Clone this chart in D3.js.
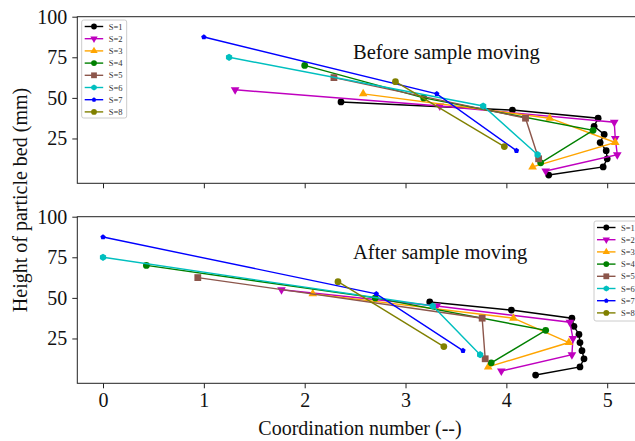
<!DOCTYPE html>
<html>
<head>
<meta charset="utf-8">
<script src="https://cdnjs.cloudflare.com/ajax/libs/d3/7.8.5/d3.min.js"></script>
<style>
body { margin: 0; background: #fff; }
svg { display: block; font-family: "Liberation Serif", "Times New Roman", serif; }
</style>
</head>
<body>
<svg width="635" height="441"></svg>
<script>
// series names / styles
var names = ["S=1", "S=2", "S=3", "S=4", "S=5", "S=6", "S=7", "S=8"];
var colors = ["#000000", "#bf00bf", "#ffa500", "#008000", "#8c564b", "#00bfbf", "#0000ff", "#808000"];
var shapes = ["circle", "down", "up", "circle", "square", "hexagon", "pentagon", "circle"];

// bed heights (mm), same for both panels
var hS1 = [47.5, 42.5, 37.5, 32.5, 27.5, 22.5, 17.5, 12.5, 7.5, 2.5];
var hS2 = [55, 45, 35, 25, 15, 5];
var hS3 = [52.5, 37.5, 22.5, 7.5];
var hS4 = [70, 50, 30, 10];
var hS5 = [62.5, 37.5, 12.5];
var hS6 = [75, 45, 15];
var hS7 = [87.5, 52.5, 17.5];
var hS8 = [60, 20];

// coordination number before moving
var beforeS1 = [2.36, 4.06, 4.91, 4.87, 4.97, 4.93, 4.99, 5.0, 4.96, 4.42];
var beforeS2 = [1.31, 3.34, 5.07, 5.08, 5.1, 4.39];
var beforeS3 = [2.58, 4.43, 5.08, 4.26];
var beforeS4 = [2.0, 3.18, 4.86, 4.34];
var beforeS5 = [2.29, 4.19, 4.32];
var beforeS6 = [1.25, 3.77, 4.31];
var beforeS7 = [1.0, 3.31, 4.1];
var beforeS8 = [2.9, 3.98];

// coordination number after moving
var afterS1 = [3.24, 4.05, 4.65, 4.67, 4.72, 4.73, 4.75, 4.77, 4.73, 4.29];
var afterS2 = [1.77, 3.31, 4.63, 4.66, 4.65, 3.95];
var afterS3 = [2.08, 4.07, 4.62, 3.82];
var afterS4 = [0.43, 2.70, 4.39, 3.85];
var afterS5 = [0.94, 3.76, 3.79];
var afterS6 = [0.0, 3.27, 3.74];
var afterS7 = [0.0, 2.71, 3.57];
var afterS8 = [2.33, 3.38];

var xTicks = [0, 1, 2, 3, 4, 5];
var yTicks = [25, 50, 75, 100];

var heights = [hS1, hS2, hS3, hS4, hS5, hS6, hS7, hS8];
var before = [beforeS1, beforeS2, beforeS3, beforeS4, beforeS5, beforeS6, beforeS7, beforeS8];
var after = [afterS1, afterS2, afterS3, afterS4, afterS5, afterS6, afterS7, afterS8];

var svg = d3.select("svg");
var left = 77.3, right = 643;

var x = d3.scaleLinear().domain([-0.255, 5.355]).range([left, right]);

function polygon(n, r, rot) {
	var pts = [];
	for (var i = 0; i < n; i++) {
		var a = rot + i * 2 * Math.PI / n;
		pts.push([r * Math.cos(a), r * Math.sin(a)]);
	}
	return "M" + pts.join("L") + "Z";
}

function markerPath(shape) {
	if (shape == "circle") return d3.symbol(d3.symbolCircle, 36)();
	if (shape == "down") return polygon(3, 5, Math.PI / 2);
	if (shape == "up") return polygon(3, 5, -Math.PI / 2);
	if (shape == "square") return "M-3.4,-3.4L3.4,-3.4L3.4,3.4L-3.4,3.4Z";
	if (shape == "hexagon") return polygon(6, 3.6, -Math.PI / 2);
	if (shape == "pentagon") return polygon(5, 2.8, -Math.PI / 2);
}

function drawPanel(top, xs, title, legendPos, showLabels) {
	var y = d3.scaleLinear().domain([-2.6, 100]).range([top + 166.6, top]);
	var g = svg.append("g");

	var yAxis = g.append("g")
		.attr("transform", "translate(" + left + ",0)")
		.call(d3.axisLeft(y).tickValues(yTicks).tickSize(5).tickPadding(5));
	var xAxis = g.append("g")
		.attr("transform", "translate(0," + y.range()[0] + ")")
		.call(d3.axisBottom(x).tickValues(xTicks).tickSize(5).tickPadding(5)
			.tickFormat(showLabels ? d3.format("d") : ""));
	[yAxis, xAxis].forEach(function (a) {
		a.select(".domain").remove();
		a.selectAll("line").attr("stroke", "#222").attr("stroke-width", 1);
		a.selectAll("text").attr("fill", "#111")
			.style("font-family", "Liberation Serif").style("font-size", "20px");
	});

	// frame
	g.append("rect")
		.attr("x", left).attr("y", top)
		.attr("width", right - left).attr("height", y.range()[0] - top)
		.attr("fill", "none").attr("stroke", "#222").attr("stroke-width", 1);

	g.append("text")
		.attr("x", 353).attr("y", top + 42)
		.style("font-size", "20.5px").attr("fill", "#111")
		.text(title);

	var line = d3.line()
		.x(function (d) { return x(d[0]); })
		.y(function (d) { return y(d[1]); });

	for (var i = 0; i < names.length; i++) {
		var pts = xs[i].map(function (v, j) { return [v, heights[i][j]]; });
		var s = g.append("g");
		s.append("path")
			.attr("d", line(pts))
			.attr("fill", "none")
			.attr("stroke", colors[i])
			.attr("stroke-width", 1.4);
		s.selectAll("path.mk")
			.data(pts)
			.enter().append("path")
			.attr("class", "mk")
			.attr("d", markerPath(shapes[i]))
			.attr("transform", function (d) { return "translate(" + x(d[0]) + "," + y(d[1]) + ")"; })
			.attr("fill", colors[i]);
	}

	// legend
	var lg = g.append("g").attr("transform", "translate(" + legendPos[0] + "," + legendPos[1] + ")");
	lg.append("rect")
		.attr("width", legendPos[2]).attr("height", legendPos[3])
		.attr("rx", 2)
		.attr("fill", "#fff").attr("fill-opacity", 0.85)
		.attr("stroke", "#ccc");
	names.forEach(function (n, i) {
		var row = lg.append("g").attr("transform", "translate(0," + (6.5 + i * 12.2) + ")");
		row.append("line")
			.attr("x1", 3).attr("x2", 21.5)
			.attr("stroke", colors[i]).attr("stroke-width", 1.4);
		row.append("path")
			.attr("d", markerPath(shapes[i]))
			.attr("transform", "translate(12.3,0) scale(0.85)")
			.attr("fill", colors[i]);
		row.append("text")
			.attr("x", 27).attr("y", 3)
			.style("font-size", "8.5px").attr("fill", "#333")
			.text(n);
	});
}

drawPanel(16.7, before, "Before sample moving", [81.7, 20, 45, 98], false);
drawPanel(216.7, after, "After sample moving", [594, 221, 50, 100], true);

svg.append("text")
	.attr("transform", "translate(27,200) rotate(-90)")
	.attr("text-anchor", "middle")
	.style("font-size", "20px").attr("fill", "#111")
	.text("Height of particle bed (mm)");

svg.append("text")
	.attr("x", 360).attr("y", 435)
	.attr("text-anchor", "middle")
	.style("font-size", "20px").attr("fill", "#111")
	.text("Coordination number (--)");
</script>
</body>
</html>
